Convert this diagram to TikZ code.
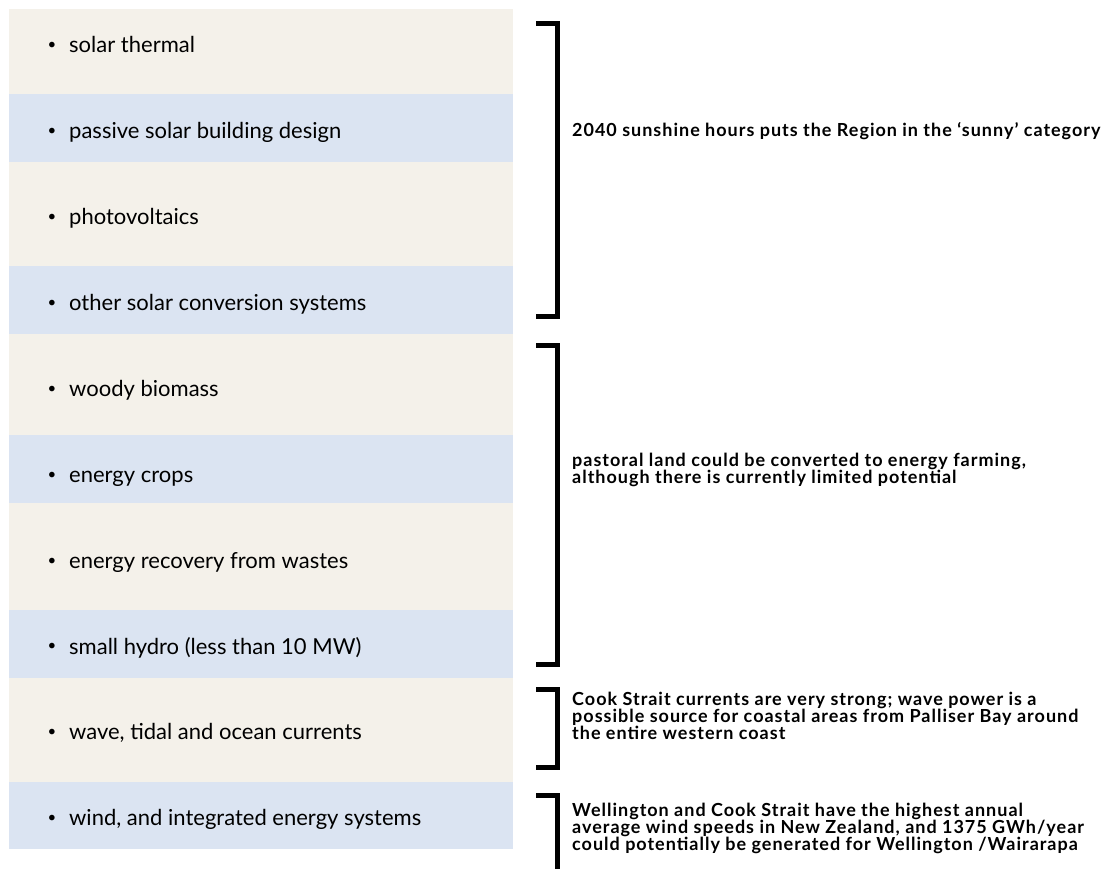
\documentclass[tikz,border=0pt]{standalone}
\usepackage{fontspec}
\setmainfont{Lato}
\newfontfamily\notefamily[LetterSpace=5.5]{Lato}
\definecolor{rowbeige}{RGB}{244,241,234}
\definecolor{rowblue}{RGB}{219,228,242}
\newcommand\mynotefont{\notefamily\bfseries\fontsize{18}{16.7}\selectfont\lineskiplimit=-100pt\relax\lineskip=0pt\relax}
\tikzset{
  rowbox/.style={fill=#1, draw=none, inner sep=0pt, anchor=north west, minimum width=504pt},
  item/.style={anchor=base west, inner sep=0pt, font=\fontsize{22}{26}\selectfont},
  dot/.style={anchor=center, inner sep=0pt, font=\fontsize{15}{18}\selectfont},
  note/.style={anchor=base west, inner sep=0pt, align=left, font=\mynotefont},
  bracket/.style={line width=5pt, line join=miter, line cap=butt},
}
\begin{document}
\begin{tikzpicture}[x=1pt,y=-1pt]
\useasboundingbox (0,0) rectangle (1111,869);
% rows
\node[rowbox=rowbeige, minimum height=85pt] (r1) at (9,9) {};
\node[rowbox=rowblue,  minimum height=68pt] (r2) at (9,94) {};
\node[rowbox=rowbeige, minimum height=104pt] (r3) at (9,162) {};
\node[rowbox=rowblue,  minimum height=68pt] (r4) at (9,266) {};
\node[rowbox=rowbeige, minimum height=101pt] (r5) at (9,334) {};
\node[rowbox=rowblue,  minimum height=68pt] (r6) at (9,435) {};
\node[rowbox=rowbeige, minimum height=107pt] (r7) at (9,503) {};
\node[rowbox=rowblue,  minimum height=68pt] (r8) at (9,610) {};
\node[rowbox=rowbeige, minimum height=104pt] (r9) at (9,678) {};
\node[rowbox=rowblue,  minimum height=67pt] (r10) at (9,782) {};
% items
\foreach \i/\t [count=\k from 0] in {1/solar thermal,2/passive solar building design,3/photovoltaics,4/other solar conversion systems,5/woody biomass,6/energy crops,7/energy recovery from wastes,8/small hydro (less than 10 MW),9/{wave, tidal and ocean currents},10/{wind, and integrated energy systems}}{
  \node[dot] (b\i) at (52,46+85.9*\k) {\textbullet};
  \node[item] (t\i) at (69,52.7+85.9*\k) {\t};
}
% brackets
\coordinate (a1) at (536,23.5); \coordinate (c1) at (557.5,23.5);
\coordinate (d1) at (557.5,316.5); \coordinate (e1) at (536,316.5);
\draw[bracket] (a1) -- (c1) -- (d1) -- (e1);
\coordinate (a2) at (536,345); \coordinate (c2) at (557.5,345);
\coordinate (d2) at (557.5,664.5); \coordinate (e2) at (536,664.5);
\draw[bracket] (a2) -- (c2) -- (d2) -- (e2);
\coordinate (a3) at (536,689.5); \coordinate (c3) at (557.5,689.5);
\coordinate (d3) at (557.5,767); \coordinate (e3) at (536,767);
\draw[bracket] (a3) -- (c3) -- (d3) -- (e3);
\coordinate (a4) at (536,795); \coordinate (c4) at (557.5,795);
\coordinate (d4) at (557.5,875);
\draw[bracket] (a4) -- (c4) -- (d4);
% notes (anchored at the baseline of the last line)
\node[note] (n1) at (572,136.7) {2040 sunshine hours puts the Region in the ‘sunny’ category};
\node[note] (n2) at (572,483.3) {pastoral land could be converted to energy farming,\\although there is currently limited potential};
\node[note] (n3) at (572,739.3) {Cook Strait currents are very strong; wave power is a\\possible source for coastal areas from Palliser Bay around\\the entire western coast};
\node[note] (n4) at (572,850) {Wellington and Cook Strait have the highest annual\\average wind speeds in New Zealand, and 1375 GWh/year\\could potentially be generated for Wellington /Wairarapa};
\end{tikzpicture}
\end{document}
